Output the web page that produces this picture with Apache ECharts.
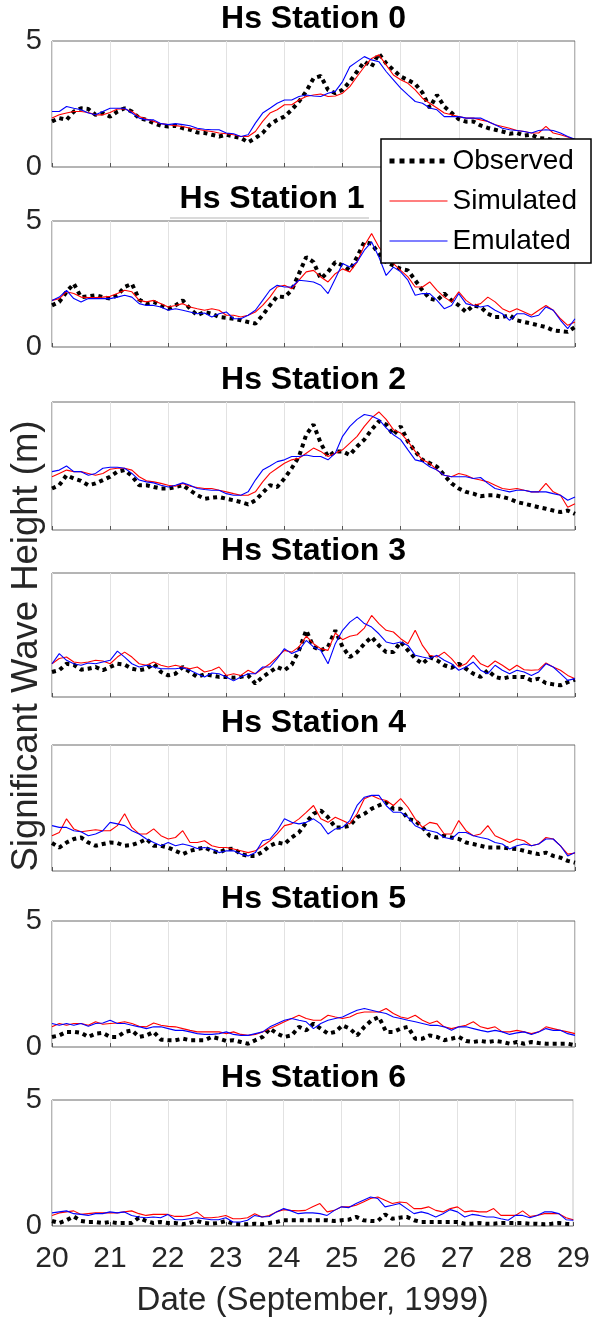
<!DOCTYPE html>
<html><head><meta charset="utf-8">
<script src="https://cdn.jsdelivr.net/npm/echarts@6/dist/echarts.min.js"></script>
<style>html,body{margin:0;padding:0;background:#fff}#c{width:593px;height:1319px}</style>
</head><body><div id="c"></div>
<script>
// ---- data ----
const times = [20,20.125,20.25,20.375,20.5,20.625,20.75,20.875,
21,21.125,21.25,21.375,21.5,21.625,21.75,21.875,
22,22.125,22.25,22.375,22.5,22.625,22.75,22.875,
23,23.125,23.25,23.375,23.5,23.625,23.75,23.875,
24,24.125,24.25,24.375,24.5,24.625,24.75,24.875,
25,25.125,25.25,25.375,25.5,25.625,25.75,25.875,
26,26.125,26.25,26.375,26.5,26.625,26.75,26.875,
27,27.125,27.25,27.375,27.5,27.625,27.75,27.875,
28,28.125,28.25,28.375,28.5,28.625,28.75,28.875,29];
const xTickLabels = ['20','21','22','23','24','25','26','27','28','29'];
const yTickLabels = ['0','5'];
const stationTitles = ['Hs Station 0','Hs Station 1','Hs Station 2','Hs Station 3','Hs Station 4','Hs Station 5','Hs Station 6'];
const seriesNames = ['Observed','Simulated','Emulated'];

const obs0 = [1.81,1.94,1.87,2.2,2.33,2.3,2.07,2.14, 2.0,2.2,2.33,2.2,1.94,1.87,1.74,1.64, 1.61,1.64,1.54,1.48,1.37,1.35,1.28,1.21, 1.28,1.21,1.15,0.98,1.15,1.35,1.68,1.87, 2.0,2.27,2.6,3.0,3.52,3.61,3.06,2.93, 3.06,3.39,3.79,4.18,3.98,4.5,4.12,3.85, 3.59,3.45,3.3,2.95,2.35,2.86,2.4,2.15, 1.9,1.8,1.81,1.65,1.55,1.48,1.41,1.32, 1.35,1.25,1.28,1.15,1.12,1.08,1.05,1.0,0.95];
const sim0 = [1.94,2.07,2.14,2.2,2.2,2.16,2.07,2.07, 2.16,2.3,2.3,2.2,2.0,1.9,1.81,1.72, 1.68,1.64,1.61,1.54,1.5,1.45,1.41,1.35, 1.32,1.28,1.21,1.21,1.41,1.81,2.14,2.27, 2.47,2.47,2.66,2.8,2.86,2.9,2.8,2.82, 2.93,3.19,3.59,3.98,4.31,4.45,4.05,3.65, 3.46,3.32,3.06,2.73,2.53,2.34,2.14,2.07, 2.0,1.94,1.94,1.87,1.81,1.68,1.61,1.54, 1.45,1.41,1.35,1.35,1.61,1.35,1.28,1.19,1.08];
const emu0 = [2.2,2.2,2.4,2.33,2.27,2.14,2.07,2.2, 2.33,2.33,2.33,2.14,1.94,1.87,1.87,1.72, 1.68,1.72,1.68,1.64,1.54,1.5,1.48,1.48, 1.35,1.32,1.21,1.28,1.74,2.14,2.33,2.53, 2.66,2.66,2.8,2.86,2.82,2.8,2.93,3.0, 3.39,3.98,4.18,4.38,4.25,4.18,3.79,3.46, 3.13,2.86,2.6,2.53,2.34,2.27,2.0,2.0, 2.0,1.94,1.94,1.94,1.81,1.68,1.54,1.48, 1.45,1.41,1.35,1.45,1.48,1.45,1.35,1.21,1.1];

const obs1 = [1.65,1.79,2.19,2.51,1.98,2.01,2.05,1.98, 1.92,2.05,2.38,2.51,1.88,1.72,1.79,1.65, 1.52,1.65,1.85,1.52,1.26,1.39,1.32,1.19, 1.16,1.12,1.06,0.99,0.93,1.26,1.65,2.01, 1.98,2.25,2.91,3.57,3.37,2.71,2.98,3.37, 3.24,3.04,3.57,4.17,4.1,3.7,3.37,3.24, 3.1,3.04,2.65,2.25,1.92,1.85,2.12,1.85, 1.65,1.39,1.65,1.59,1.32,1.19,1.19,1.26, 1.06,0.99,0.93,0.86,0.79,0.66,0.63,0.6,0.79];
const sim1 = [1.85,1.92,2.19,2.12,1.98,1.96,1.96,1.98, 2.01,2.12,2.25,2.19,1.85,1.79,1.85,1.72, 1.59,1.65,1.72,1.59,1.52,1.46,1.52,1.46, 1.26,1.26,1.19,1.26,1.39,1.65,1.98,2.38, 2.45,2.31,2.65,2.98,3.04,2.78,2.58,2.91, 3.1,2.98,3.37,4.03,4.5,3.97,3.57,3.31, 3.04,2.78,2.38,2.38,2.58,2.25,1.98,1.79, 2.19,1.85,1.65,1.72,1.98,1.79,1.52,1.39, 1.52,1.39,1.26,1.46,1.65,1.46,1.12,0.86,0.99];
const emu1 = [1.85,1.98,2.25,1.92,1.79,1.92,1.92,1.92, 1.92,1.98,2.05,1.98,1.72,1.65,1.65,1.59, 1.46,1.52,1.46,1.39,1.32,1.35,1.19,1.32, 1.39,1.12,1.12,1.26,1.46,1.85,2.25,2.45, 2.38,2.38,2.65,2.62,2.58,2.45,2.12,2.71, 3.31,3.17,3.37,3.84,4.17,3.57,2.84,3.17, 2.98,2.65,2.05,2.12,2.12,1.85,1.52,1.65, 2.12,1.72,1.65,1.59,1.65,1.46,1.32,1.06, 1.32,1.32,1.19,1.26,1.59,1.46,1.06,0.73,1.12];

const obs2 = [1.62,1.75,2.14,2.01,1.92,1.75,1.82,1.95, 2.08,2.28,2.34,2.11,1.75,1.75,1.68,1.62, 1.62,1.68,1.75,1.55,1.36,1.22,1.26,1.29, 1.22,1.16,1.09,1.0,1.16,1.45,1.75,1.68, 2.01,2.41,2.87,3.72,4.12,3.39,2.87,3.07, 3.07,2.93,3.26,3.53,3.92,4.25,4.12,3.72, 4.05,3.46,3.07,2.74,2.61,2.47,2.14,1.82, 1.62,1.49,1.42,1.32,1.36,1.36,1.29,1.22, 1.09,1.03,0.96,0.89,0.83,0.76,0.7,0.76,0.63];
const sim2 = [2.08,2.21,2.34,2.28,2.28,2.21,2.14,2.21, 2.37,2.41,2.41,2.34,2.08,1.92,1.88,1.82, 1.75,1.71,1.82,1.71,1.66,1.62,1.62,1.55, 1.49,1.42,1.36,1.36,1.49,1.88,2.21,2.41, 2.61,2.74,2.8,3.0,3.2,3.07,2.87,3.0, 3.13,3.39,3.66,4.05,4.38,4.61,4.32,3.92, 3.79,3.46,3.07,2.74,2.61,2.34,2.14,2.08, 2.21,2.14,2.01,1.95,1.88,1.75,1.62,1.58, 1.62,1.55,1.49,1.49,1.82,1.49,1.36,0.89,1.03];
const emu2 = [2.28,2.34,2.5,2.28,2.28,2.14,2.21,2.41, 2.45,2.45,2.41,2.21,1.95,1.88,1.84,1.75, 1.68,1.75,1.84,1.75,1.62,1.58,1.55,1.55, 1.42,1.36,1.36,1.49,1.95,2.34,2.5,2.67, 2.74,2.87,2.87,2.93,2.87,2.87,2.74,3.0, 3.66,4.05,4.32,4.51,4.45,4.32,3.99,3.72, 3.53,3.13,2.74,2.67,2.47,2.34,2.14,2.08, 2.08,2.08,2.01,2.05,1.82,1.62,1.55,1.49, 1.55,1.55,1.49,1.49,1.49,1.42,1.36,1.16,1.29];

const obs3 = [1.01,1.08,1.34,1.3,1.1,1.14,1.21,1.08, 1.21,1.34,1.3,1.14,1.08,1.14,1.34,1.01, 0.87,0.94,1.21,1.01,0.81,0.91,0.87,0.81, 0.81,0.78,0.81,0.87,0.54,0.81,1.01,1.21, 1.08,1.3,1.88,2.69,2.02,1.88,2.02,2.69, 2.02,1.61,1.81,2.15,2.42,2.08,1.81,1.81, 2.22,1.88,1.55,1.34,1.61,1.48,1.28,1.18, 1.34,1.14,0.94,0.81,1.08,0.81,0.74,0.81, 0.81,0.81,0.67,0.74,0.56,0.51,0.47,0.6,0.7];
const sim3 = [1.34,1.55,1.61,1.41,1.37,1.41,1.48,1.45, 1.34,1.61,1.81,1.61,1.34,1.28,1.41,1.28, 1.21,1.28,1.21,1.14,1.21,1.01,1.08,1.21, 0.87,0.94,0.87,1.08,0.94,1.14,1.34,1.61, 1.88,1.81,2.02,2.45,2.15,1.95,1.88,2.58, 2.31,2.45,2.51,2.78,3.29,2.96,2.69,2.62, 2.35,2.15,2.69,2.08,1.68,1.61,1.81,1.55, 1.21,1.34,1.68,1.34,1.21,1.45,1.28,1.08, 1.28,1.1,1.08,1.1,1.37,1.21,1.08,0.87,0.74];
const emu3 = [1.34,1.75,1.48,1.34,1.28,1.37,1.34,1.41, 1.48,1.85,1.61,1.34,1.21,1.28,1.21,1.14, 1.14,1.14,1.18,1.08,0.94,0.81,0.97,0.94, 0.81,0.65,0.81,0.94,0.94,1.21,1.21,1.55, 1.95,1.75,1.88,2.28,2.02,1.88,1.34,2.15, 2.69,3.02,3.23,2.96,2.82,2.55,2.22,2.15, 2.22,2.08,1.68,1.61,1.55,1.68,1.48,1.34, 1.08,1.21,1.41,1.08,0.94,1.28,1.08,0.94, 1.08,1.01,0.87,1.01,1.34,1.21,0.94,0.67,0.74];

const obs4 = [1.11,0.93,1.13,1.27,1.33,1.13,1.0,1.07, 1.13,1.11,1.0,1.03,1.13,1.27,1.0,1.0, 0.93,0.8,0.67,0.8,0.87,0.93,0.8,0.73, 0.87,0.89,0.67,0.6,0.6,0.76,1.0,1.13, 1.07,1.33,1.53,1.93,2.27,2.4,2.13,1.73, 1.73,1.8,2.13,2.27,2.47,2.6,2.73,2.47, 2.47,2.07,2.0,1.73,1.4,1.33,1.4,1.33, 1.27,1.13,1.07,1.0,0.93,0.93,0.93,0.89, 0.87,0.8,0.73,0.67,0.73,0.6,0.53,0.4,0.33];
const sim4 = [1.4,1.53,2.07,1.67,1.56,1.6,1.64,1.6, 1.6,1.8,2.27,1.73,1.47,1.47,1.67,1.4, 1.27,1.33,1.6,1.13,1.13,1.2,1.0,0.93, 0.93,0.87,0.8,0.73,0.8,1.0,1.2,1.47, 1.8,1.87,2.07,2.33,2.6,2.07,1.93,2.13, 2.0,1.87,2.27,2.87,3.0,2.87,2.8,2.6, 2.87,2.53,2.07,1.73,1.93,1.87,1.47,1.47, 2.0,1.6,1.4,1.47,1.8,1.4,1.27,1.13, 1.27,1.2,1.0,1.07,1.33,1.27,1.0,0.67,0.71];
const emu4 = [1.8,1.73,1.73,1.6,1.56,1.4,1.47,1.6, 1.93,1.87,1.8,1.6,1.47,1.27,1.13,1.0, 1.13,1.0,1.07,1.0,0.89,0.93,0.87,0.73, 0.8,0.8,0.67,0.6,0.73,1.2,1.27,1.6, 2.07,1.93,1.87,1.93,2.07,1.87,1.47,1.67, 1.73,2.0,2.6,2.93,3.0,3.0,2.6,2.33, 2.33,2.13,1.8,1.67,1.6,1.53,1.33,1.27, 1.53,1.53,1.4,1.33,1.27,1.13,1.07,0.87, 1.0,1.07,1.0,1.07,1.27,1.27,1.0,0.6,0.73];

const obs5 = [0.4,0.46,0.6,0.6,0.56,0.4,0.53,0.56, 0.4,0.4,0.6,0.66,0.4,0.46,0.6,0.29, 0.27,0.27,0.33,0.27,0.27,0.27,0.4,0.33, 0.24,0.27,0.2,0.13,0.27,0.4,0.73,0.53, 0.4,0.46,0.8,0.66,0.93,0.73,0.53,0.6, 0.86,0.73,0.46,0.8,1.06,1.19,0.6,0.6, 0.73,0.8,0.33,0.33,0.46,0.4,0.27,0.33, 0.4,0.24,0.2,0.24,0.2,0.24,0.2,0.13, 0.2,0.13,0.2,0.16,0.13,0.13,0.13,0.13,0.07];
const sim5 = [0.8,0.93,0.86,0.93,0.93,0.86,1.0,0.9, 0.93,0.95,1.0,0.93,0.82,0.8,0.95,0.86, 0.82,0.8,0.73,0.66,0.6,0.6,0.6,0.6, 0.53,0.6,0.5,0.46,0.5,0.6,0.73,0.86, 1.0,1.13,1.26,1.13,1.06,1.06,1.26,1.19, 1.13,1.19,1.33,1.39,1.39,1.39,1.53,1.33, 1.19,1.13,1.26,1.06,0.93,1.03,0.8,0.73, 0.8,0.86,1.0,0.8,0.73,0.8,0.6,0.6, 0.66,0.6,0.53,0.6,0.8,0.73,0.66,0.6,0.53];
const emu5 = [0.93,0.86,0.93,0.86,0.93,0.82,0.93,0.95, 1.06,0.93,0.93,0.86,0.8,0.73,0.8,0.8, 0.73,0.66,0.66,0.6,0.53,0.5,0.5,0.53, 0.6,0.5,0.46,0.46,0.53,0.6,0.8,0.93, 1.06,1.13,1.06,1.0,0.73,0.93,1.06,1.13, 1.19,1.33,1.46,1.53,1.46,1.39,1.33,1.19, 1.13,1.06,1.0,0.93,0.86,0.86,0.8,0.66, 0.8,0.8,0.73,0.66,0.6,0.66,0.6,0.5, 0.56,0.6,0.5,0.6,0.73,0.66,0.66,0.53,0.46];

const obs6 = [0.2,0.12,0.23,0.38,0.2,0.16,0.16,0.12, 0.16,0.12,0.12,0.12,0.33,0.2,0.12,0.16, 0.12,0.12,0.07,0.12,0.2,0.12,0.09,0.12, 0.2,0.09,0.07,0.07,0.09,0.07,0.12,0.16, 0.23,0.23,0.23,0.23,0.23,0.23,0.23,0.2, 0.23,0.25,0.36,0.23,0.2,0.2,0.46,0.29, 0.33,0.36,0.23,0.16,0.16,0.16,0.16,0.16, 0.16,0.09,0.09,0.12,0.09,0.09,0.12,0.12, 0.12,0.12,0.09,0.09,0.07,0.09,0.12,0.09,0.07];
const sim6 = [0.42,0.52,0.56,0.6,0.46,0.49,0.52,0.52, 0.52,0.52,0.56,0.6,0.49,0.42,0.46,0.46, 0.46,0.38,0.38,0.42,0.56,0.33,0.33,0.36, 0.42,0.29,0.29,0.33,0.49,0.36,0.42,0.56, 0.65,0.62,0.6,0.62,0.76,0.89,0.56,0.62, 0.76,0.76,0.82,0.95,1.09,1.15,1.02,0.89, 0.95,0.92,0.69,0.69,0.76,0.62,0.56,0.69, 0.76,0.56,0.6,0.56,0.56,0.69,0.42,0.42, 0.42,0.6,0.38,0.42,0.49,0.49,0.49,0.33,0.25];
const emu6 = [0.52,0.56,0.6,0.49,0.46,0.42,0.49,0.49, 0.56,0.52,0.56,0.42,0.36,0.33,0.36,0.33, 0.46,0.25,0.25,0.29,0.33,0.29,0.25,0.25, 0.33,0.16,0.16,0.23,0.42,0.36,0.38,0.56, 0.69,0.6,0.49,0.52,0.52,0.49,0.42,0.62, 0.76,0.73,0.89,1.02,1.15,1.09,0.76,0.82, 0.89,0.69,0.49,0.56,0.49,0.36,0.49,0.65, 0.56,0.36,0.46,0.42,0.36,0.36,0.29,0.23, 0.42,0.42,0.33,0.42,0.56,0.56,0.49,0.25,0.23];

const observed = [obs0,obs1,obs2,obs3,obs4,obs5,obs6];
const simulated = [sim0,sim1,sim2,sim3,sim4,sim5,sim6];
const emulated = [emu0,emu1,emu2,emu3,emu4,emu5,emu6];

// ---- layout / style ----
const FONT = "'Liberation Sans', Arial, Helvetica, sans-serif";
const gridLeft = 52, gridWidth = 523;
const gridTops = [41,221,402,573,745,921,1100];
const gridHeights = [126,126,128,124,126,126,126];
const titleCenters = [313.5,272,313.5,313.5,313.5,313.5,313.5];
const showYLabels = [true,true,false,false,false,true,true];
const N = 7;

const pairs = arr => arr.map((v,i) => [times[i], v]);

const grids = [], xAxes = [], yAxes = [], titles = [], series = [];
for (let i = 0; i < N; i++) {
  grids.push({left: gridLeft, width: gridWidth, top: gridTops[i], height: gridHeights[i],
    show: true, borderColor: '#6a6a6a', borderWidth: 1, backgroundColor: 'transparent'});
  const last = i === N - 1;
  xAxes.push({gridIndex: i, type: 'value', min: 20, max: 29, interval: 1,
    axisLine: {show: false},
    axisTick: {show: true, inside: true, length: 4, lineStyle: {color: '#555'}},
    axisLabel: {show: last, fontSize: 30, color: '#262626', fontFamily: FONT, margin: 18,
      formatter: v => xTickLabels[Math.round(v - 20)]},
    splitLine: {show: true, lineStyle: {color: '#e2e2e2', width: 1}},
    name: last ? 'Date (September, 1999)' : '',
    nameLocation: 'middle', nameGap: 58,
    nameTextStyle: {fontSize: 33, color: '#262626', fontFamily: FONT}
  });
  yAxes.push({gridIndex: i, type: 'value', min: 0, max: 5, interval: 5,
    axisLine: {show: false}, axisTick: {show: false}, splitLine: {show: false},
    axisLabel: {show: showYLabels[i], fontSize: 29, color: '#262626', fontFamily: FONT, margin: 10,
      padding: [6, 0, 0, 0],
      formatter: v => yTickLabels[v === 0 ? 0 : 1]}
  });
  titles.push({text: stationTitles[i], left: titleCenters[i], top: gridTops[i] - 38, textAlign: 'center', padding: 0,
    textStyle: {fontSize: 32, fontWeight: 'bold', color: '#000', fontFamily: FONT}});
  series.push({type: 'line', name: seriesNames[0], xAxisIndex: i, yAxisIndex: i, data: pairs(observed[i]),
    symbol: 'none', silent: true, lineStyle: {color: '#000', width: 4, type: [4, 4], cap: 'butt'}, itemStyle: {color: '#000'}});
  series.push({type: 'line', name: seriesNames[1], xAxisIndex: i, yAxisIndex: i, data: pairs(simulated[i]),
    symbol: 'none', silent: true, lineStyle: {color: '#ff0000', width: 1.1}, itemStyle: {color: '#ff0000'}});
  series.push({type: 'line', name: seriesNames[2], xAxisIndex: i, yAxisIndex: i, data: pairs(emulated[i]),
    symbol: 'none', silent: true, lineStyle: {color: '#0000ff', width: 1.1}, itemStyle: {color: '#0000ff'}});
}

const chart = echarts.init(document.getElementById('c'), null, {renderer: 'canvas'});
chart.setOption({
  animation: false,
  backgroundColor: '#fff',
  title: titles,
  grid: grids,
  xAxis: xAxes,
  yAxis: yAxes,
  legend: {
    data: [
      {name: seriesNames[0], lineStyle: {color: '#000', width: 5, type: [5, 5], cap: 'butt'}},
      {name: seriesNames[1], lineStyle: {color: '#ff0000', width: 1.2}},
      {name: seriesNames[2], lineStyle: {color: '#0000ff', width: 1.2}}
    ],
    orient: 'vertical', left: 381, top: 139,
    itemWidth: 58, itemHeight: 14, itemGap: 10, padding: [7, 14, 7, 6],
    itemStyle: {color: 'rgba(0,0,0,0)', borderWidth: 0, opacity: 0},
    backgroundColor: '#fff', borderColor: '#000', borderWidth: 1.5, borderRadius: 0,
    textStyle: {fontSize: 28, color: '#000', fontFamily: FONT, lineHeight: 30}},
  graphic: [
    {type: 'text', x: 27, y: 646, rotation: Math.PI / 2, silent: true,
      style: {text: 'Significant Wave Height (m)', fontSize: 36.5, fontFamily: FONT, fill: '#262626',
        align: 'center', verticalAlign: 'middle'}},
    {type: 'line', silent: true, shape: {x1: 170, y1: 218, x2: 369, y2: 218},
      style: {stroke: '#b5b5b5', lineWidth: 1}}
  ],
  series: series
});
</script></body></html>
